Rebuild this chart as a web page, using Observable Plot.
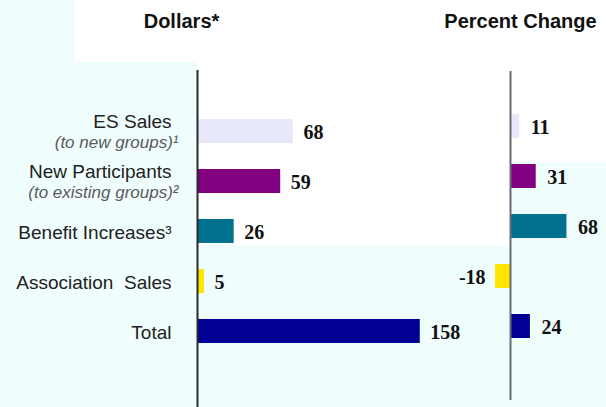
<!DOCTYPE html>
<html><head><meta charset="utf-8">
<script src="https://cdn.jsdelivr.net/npm/d3@7"></script>
<script src="https://cdn.jsdelivr.net/npm/@observablehq/plot@0.6"></script>
<style>
body{margin:0;background:#f0fdfd}
#c{position:relative;width:606px;height:407px;overflow:hidden;background:#f0fdfd}
#c svg{position:absolute;left:0;top:0}
.w{position:absolute;background:#fff}
.t{position:absolute;top:10px;line-height:19px;font:bold 20px "Liberation Sans",Arial,sans-serif;color:#111;white-space:nowrap;transform:translateX(-50%)}
</style></head><body>
<div id="c">
  <div class="w" style="left:75px;top:0;width:531px;height:62px"></div>
  <div class="w" style="left:197px;top:62px;width:313px;height:183px"></div>
  <div class="w" style="left:510px;top:62px;width:96px;height:100px"></div>
</div>
<script>
const categories = ["ES Sales","New Participants","Benefit Increases","Association Sales","Total"];
const labels = ["ES Sales","New Participants","Benefit Increases³","Association\u00a0\u00a0Sales","Total"];
const sublabels = ["(to new groups)¹","(to existing groups)²","","",""];
const dollars = [68,59,26,5,158];
const pctChange = [11,31,68,-18,24];
const colors = ["#e8e8fb","#800080","#00718f","#ffe600","#000096"];
const titles = ["Dollars*","Percent Change"];

const rows = categories.map((c,i)=>({cat:c,label:labels[i],sub:sublabels[i],dollars:dollars[i],pct:pctChange[i],color:colors[i]}));
const sans = '"Liberation Sans", Arial, sans-serif';
const serif = '"Liberation Serif", "Times New Roman", serif';
const c = document.getElementById("c");

const left = Plot.plot({
  width: 606, height: 407,
  marginTop: 70, marginBottom: 0, marginLeft: 0, marginRight: 0,
  x: {domain:[0,200], range:[197,479], axis:null},
  y: {domain:categories, range:[104.2,357.2], padding:0, axis:null},
  style: {background:"transparent", overflow:"visible"},
  marks: [
    Plot.barX(rows, {x:"dollars", y:"cat", fill:"color", insetTop:13, insetBottom:13}),
    Plot.ruleX([0], {stroke:"#2b2b2b", strokeWidth:2}),
    Plot.text(rows, {x:"dollars", y:"cat", text:d=>String(d.dollars), dx:10, dy:1, textAnchor:"start", fontSize:20, fontWeight:"bold", fontFamily:serif, fill:"#111"}),
    Plot.text(rows, {filter:d=>d.sub, x:0, y:"cat", text:"label", dx:-26, dy:-10, textAnchor:"end", fontSize:19, fontFamily:sans, fill:"#222"}),
    Plot.text(rows, {filter:d=>d.sub, x:0, y:"cat", text:"sub", dx:-19, dy:11.5, textAnchor:"end", fontSize:17, fontStyle:"italic", fontFamily:sans, fill:"#5a5a5a"}),
    Plot.text(rows, {filter:d=>!d.sub, x:0, y:"cat", text:"label", dx:-26, dy:1, textAnchor:"end", fontSize:19, fontFamily:sans, fill:"#222"})
  ]
});

const right = Plot.plot({
  width: 606, height: 407,
  marginTop: 71, marginBottom: 7, marginLeft: 0, marginRight: 0,
  x: {domain:[-30,90], range:[485.1,584.7], axis:null},
  y: {domain:categories, range:[99.2,352.2], padding:0, axis:null},
  style: {background:"transparent", overflow:"visible"},
  marks: [
    Plot.barX(rows, {x:"pct", y:"cat", fill:"color", insetTop:13, insetBottom:13}),
    Plot.ruleX([0], {stroke:"#6b6b78", strokeWidth:2}),
    Plot.text(rows, {filter:d=>d.pct>=0, x:"pct", y:"cat", text:d=>String(d.pct), dx:11, dy:1, textAnchor:"start", fontSize:20, fontWeight:"bold", fontFamily:serif, fill:"#111"}),
    Plot.text(rows, {filter:d=>d.pct<0, x:"pct", y:"cat", text:d=>String(d.pct), dx:-10, dy:1, textAnchor:"end", fontSize:20, fontWeight:"bold", fontFamily:serif, fill:"#111"})
  ]
});

c.appendChild(left);
c.appendChild(right);
const tx = [181.5, 520.5];
titles.forEach((t,i)=>{
  const d = document.createElement("div");
  d.className = "t"; d.textContent = t; d.style.left = tx[i] + "px";
  c.appendChild(d);
});
</script>
</body></html>
